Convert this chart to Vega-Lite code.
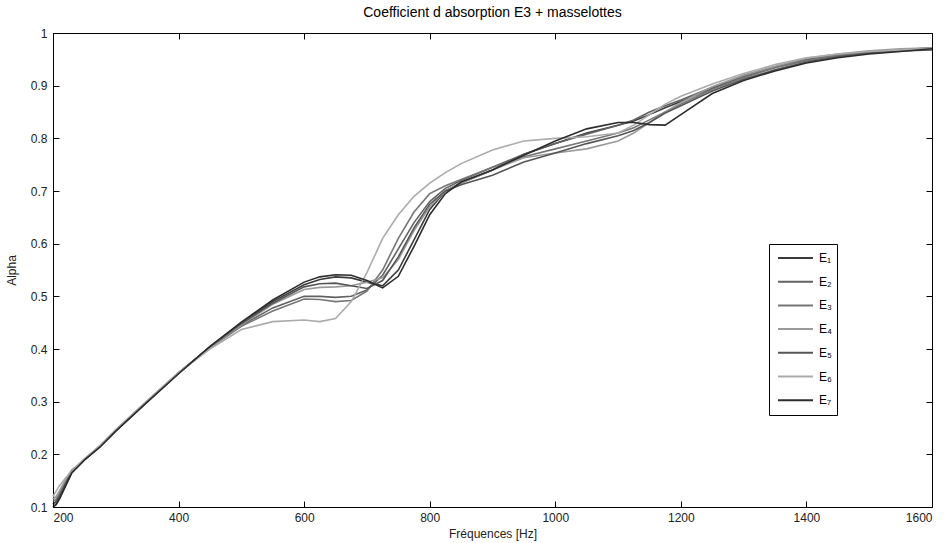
{
  "$schema": "https://vega.github.io/schema/vega-lite/v6.json",
  "width": 879,
  "height": 474,
  "autosize": {"type": "none"},
  "padding": {"left": 53, "top": 33, "right": 14, "bottom": 36},
  "background": "white",
  "title": {"text": "Coefficient d absorption E3 + masselottes", "fontSize": 14, "fontWeight": "normal", "font": "Liberation Sans", "color": "#000", "anchor": "middle", "offset": 7},
  "config": {
    "view": {"stroke": "#000", "strokeWidth": 1},
    "axis": {"grid": false, "domain": false}
  },
  "data": {"values": [
    {"f":200,"s":"E₁","a":0.100},{"f":200,"s":"E₂","a":0.105},{"f":200,"s":"E₃","a":0.110},{"f":200,"s":"E₄","a":0.115},{"f":200,"s":"E₅","a":0.105},{"f":200,"s":"E₆","a":0.120},{"f":200,"s":"E₇","a":0.100},
    {"f":205,"s":"E₁","a":0.105},{"f":205,"s":"E₂","a":0.110},{"f":205,"s":"E₃","a":0.115},{"f":205,"s":"E₄","a":0.120},{"f":205,"s":"E₅","a":0.110},{"f":205,"s":"E₆","a":0.130},{"f":205,"s":"E₇","a":0.105},
    {"f":210,"s":"E₁","a":0.115},{"f":210,"s":"E₂","a":0.120},{"f":210,"s":"E₃","a":0.125},{"f":210,"s":"E₄","a":0.130},{"f":210,"s":"E₅","a":0.120},{"f":210,"s":"E₆","a":0.140},{"f":210,"s":"E₇","a":0.115},
    {"f":220,"s":"E₁","a":0.140},{"f":220,"s":"E₂","a":0.145},{"f":220,"s":"E₃","a":0.150},{"f":220,"s":"E₄","a":0.152},{"f":220,"s":"E₅","a":0.145},{"f":220,"s":"E₆","a":0.155},{"f":220,"s":"E₇","a":0.140},
    {"f":230,"s":"E₁","a":0.165},{"f":230,"s":"E₂","a":0.168},{"f":230,"s":"E₃","a":0.170},{"f":230,"s":"E₄","a":0.170},{"f":230,"s":"E₅","a":0.168},{"f":230,"s":"E₆","a":0.168},{"f":230,"s":"E₇","a":0.165},
    {"f":240,"s":"E₁","a":0.177},{"f":240,"s":"E₂","a":0.178},{"f":240,"s":"E₃","a":0.179},{"f":240,"s":"E₄","a":0.180},{"f":240,"s":"E₅","a":0.178},{"f":240,"s":"E₆","a":0.179},{"f":240,"s":"E₇","a":0.177},
    {"f":250,"s":"E₁","a":0.190},{"f":250,"s":"E₂","a":0.190},{"f":250,"s":"E₃","a":0.191},{"f":250,"s":"E₄","a":0.191},{"f":250,"s":"E₅","a":0.190},{"f":250,"s":"E₆","a":0.191},{"f":250,"s":"E₇","a":0.189},
    {"f":275,"s":"E₁","a":0.215},{"f":275,"s":"E₂","a":0.215},{"f":275,"s":"E₃","a":0.216},{"f":275,"s":"E₄","a":0.216},{"f":275,"s":"E₅","a":0.215},{"f":275,"s":"E₆","a":0.217},{"f":275,"s":"E₇","a":0.214},
    {"f":300,"s":"E₁","a":0.245},{"f":300,"s":"E₂","a":0.245},{"f":300,"s":"E₃","a":0.246},{"f":300,"s":"E₄","a":0.246},{"f":300,"s":"E₅","a":0.245},{"f":300,"s":"E₆","a":0.247},{"f":300,"s":"E₇","a":0.244},
    {"f":350,"s":"E₁","a":0.300},{"f":350,"s":"E₂","a":0.300},{"f":350,"s":"E₃","a":0.301},{"f":350,"s":"E₄","a":0.301},{"f":350,"s":"E₅","a":0.300},{"f":350,"s":"E₆","a":0.302},{"f":350,"s":"E₇","a":0.299},
    {"f":400,"s":"E₁","a":0.354},{"f":400,"s":"E₂","a":0.354},{"f":400,"s":"E₃","a":0.355},{"f":400,"s":"E₄","a":0.355},{"f":400,"s":"E₅","a":0.354},{"f":400,"s":"E₆","a":0.355},{"f":400,"s":"E₇","a":0.353},
    {"f":450,"s":"E₁","a":0.404},{"f":450,"s":"E₂","a":0.403},{"f":450,"s":"E₃","a":0.402},{"f":450,"s":"E₄","a":0.403},{"f":450,"s":"E₅","a":0.404},{"f":450,"s":"E₆","a":0.400},{"f":450,"s":"E₇","a":0.405},
    {"f":500,"s":"E₁","a":0.449},{"f":500,"s":"E₂","a":0.445},{"f":500,"s":"E₃","a":0.443},{"f":500,"s":"E₄","a":0.446},{"f":500,"s":"E₅","a":0.448},{"f":500,"s":"E₆","a":0.437},{"f":500,"s":"E₇","a":0.451},
    {"f":550,"s":"E₁","a":0.490},{"f":550,"s":"E₂","a":0.478},{"f":550,"s":"E₃","a":0.472},{"f":550,"s":"E₄","a":0.485},{"f":550,"s":"E₅","a":0.487},{"f":550,"s":"E₆","a":0.452},{"f":550,"s":"E₇","a":0.493},
    {"f":600,"s":"E₁","a":0.522},{"f":600,"s":"E₂","a":0.500},{"f":600,"s":"E₃","a":0.495},{"f":600,"s":"E₄","a":0.513},{"f":600,"s":"E₅","a":0.518},{"f":600,"s":"E₆","a":0.455},{"f":600,"s":"E₇","a":0.527},
    {"f":625,"s":"E₁","a":0.532},{"f":625,"s":"E₂","a":0.500},{"f":625,"s":"E₃","a":0.494},{"f":625,"s":"E₄","a":0.517},{"f":625,"s":"E₅","a":0.524},{"f":625,"s":"E₆","a":0.452},{"f":625,"s":"E₇","a":0.537},
    {"f":650,"s":"E₁","a":0.537},{"f":650,"s":"E₂","a":0.498},{"f":650,"s":"E₃","a":0.490},{"f":650,"s":"E₄","a":0.518},{"f":650,"s":"E₅","a":0.525},{"f":650,"s":"E₆","a":0.458},{"f":650,"s":"E₇","a":0.541},
    {"f":675,"s":"E₁","a":0.535},{"f":675,"s":"E₂","a":0.500},{"f":675,"s":"E₃","a":0.492},{"f":675,"s":"E₄","a":0.520},{"f":675,"s":"E₅","a":0.520},{"f":675,"s":"E₆","a":0.490},{"f":675,"s":"E₇","a":0.540},
    {"f":700,"s":"E₁","a":0.527},{"f":700,"s":"E₂","a":0.512},{"f":700,"s":"E₃","a":0.510},{"f":700,"s":"E₄","a":0.527},{"f":700,"s":"E₅","a":0.515},{"f":700,"s":"E₆","a":0.545},{"f":700,"s":"E₇","a":0.530},
    {"f":725,"s":"E₁","a":0.520},{"f":725,"s":"E₂","a":0.540},{"f":725,"s":"E₃","a":0.550},{"f":725,"s":"E₄","a":0.535},{"f":725,"s":"E₅","a":0.530},{"f":725,"s":"E₆","a":0.610},{"f":725,"s":"E₇","a":0.516},
    {"f":750,"s":"E₁","a":0.550},{"f":750,"s":"E₂","a":0.590},{"f":750,"s":"E₃","a":0.610},{"f":750,"s":"E₄","a":0.570},{"f":750,"s":"E₅","a":0.575},{"f":750,"s":"E₆","a":0.655},{"f":750,"s":"E₇","a":0.538},
    {"f":775,"s":"E₁","a":0.607},{"f":775,"s":"E₂","a":0.640},{"f":775,"s":"E₃","a":0.660},{"f":775,"s":"E₄","a":0.625},{"f":775,"s":"E₅","a":0.630},{"f":775,"s":"E₆","a":0.690},{"f":775,"s":"E₇","a":0.595},
    {"f":800,"s":"E₁","a":0.665},{"f":800,"s":"E₂","a":0.680},{"f":800,"s":"E₃","a":0.695},{"f":800,"s":"E₄","a":0.670},{"f":800,"s":"E₅","a":0.675},{"f":800,"s":"E₆","a":0.715},{"f":800,"s":"E₇","a":0.655},
    {"f":825,"s":"E₁","a":0.700},{"f":825,"s":"E₂","a":0.705},{"f":825,"s":"E₃","a":0.710},{"f":825,"s":"E₄","a":0.700},{"f":825,"s":"E₅","a":0.700},{"f":825,"s":"E₆","a":0.735},{"f":825,"s":"E₇","a":0.695},
    {"f":850,"s":"E₁","a":0.715},{"f":850,"s":"E₂","a":0.720},{"f":850,"s":"E₃","a":0.722},{"f":850,"s":"E₄","a":0.715},{"f":850,"s":"E₅","a":0.712},{"f":850,"s":"E₆","a":0.752},{"f":850,"s":"E₇","a":0.717},
    {"f":900,"s":"E₁","a":0.740},{"f":900,"s":"E₂","a":0.745},{"f":900,"s":"E₃","a":0.745},{"f":900,"s":"E₄","a":0.740},{"f":900,"s":"E₅","a":0.730},{"f":900,"s":"E₆","a":0.778},{"f":900,"s":"E₇","a":0.740},
    {"f":950,"s":"E₁","a":0.770},{"f":950,"s":"E₂","a":0.770},{"f":950,"s":"E₃","a":0.765},{"f":950,"s":"E₄","a":0.763},{"f":950,"s":"E₅","a":0.755},{"f":950,"s":"E₆","a":0.795},{"f":950,"s":"E₇","a":0.768},
    {"f":1000,"s":"E₁","a":0.790},{"f":1000,"s":"E₂","a":0.790},{"f":1000,"s":"E₃","a":0.780},{"f":1000,"s":"E₄","a":0.772},{"f":1000,"s":"E₅","a":0.772},{"f":1000,"s":"E₆","a":0.800},{"f":1000,"s":"E₇","a":0.795},
    {"f":1050,"s":"E₁","a":0.810},{"f":1050,"s":"E₂","a":0.808},{"f":1050,"s":"E₃","a":0.795},{"f":1050,"s":"E₄","a":0.780},{"f":1050,"s":"E₅","a":0.790},{"f":1050,"s":"E₆","a":0.803},{"f":1050,"s":"E₇","a":0.818},
    {"f":1100,"s":"E₁","a":0.825},{"f":1100,"s":"E₂","a":0.825},{"f":1100,"s":"E₃","a":0.810},{"f":1100,"s":"E₄","a":0.795},{"f":1100,"s":"E₅","a":0.805},{"f":1100,"s":"E₆","a":0.810},{"f":1100,"s":"E₇","a":0.830},
    {"f":1125,"s":"E₁","a":0.833},{"f":1125,"s":"E₂","a":0.835},{"f":1125,"s":"E₃","a":0.820},{"f":1125,"s":"E₄","a":0.810},{"f":1125,"s":"E₅","a":0.815},{"f":1125,"s":"E₆","a":0.825},{"f":1125,"s":"E₇","a":0.830},
    {"f":1150,"s":"E₁","a":0.845},{"f":1150,"s":"E₂","a":0.850},{"f":1150,"s":"E₃","a":0.835},{"f":1150,"s":"E₄","a":0.830},{"f":1150,"s":"E₅","a":0.830},{"f":1150,"s":"E₆","a":0.845},{"f":1150,"s":"E₇","a":0.826},
    {"f":1175,"s":"E₁","a":0.858},{"f":1175,"s":"E₂","a":0.862},{"f":1175,"s":"E₃","a":0.850},{"f":1175,"s":"E₄","a":0.850},{"f":1175,"s":"E₅","a":0.848},{"f":1175,"s":"E₆","a":0.865},{"f":1175,"s":"E₇","a":0.825},
    {"f":1200,"s":"E₁","a":0.870},{"f":1200,"s":"E₂","a":0.873},{"f":1200,"s":"E₃","a":0.865},{"f":1200,"s":"E₄","a":0.868},{"f":1200,"s":"E₅","a":0.862},{"f":1200,"s":"E₆","a":0.880},{"f":1200,"s":"E₇","a":0.845},
    {"f":1250,"s":"E₁","a":0.895},{"f":1250,"s":"E₂","a":0.897},{"f":1250,"s":"E₃","a":0.893},{"f":1250,"s":"E₄","a":0.898},{"f":1250,"s":"E₅","a":0.890},{"f":1250,"s":"E₆","a":0.903},{"f":1250,"s":"E₇","a":0.885},
    {"f":1300,"s":"E₁","a":0.918},{"f":1300,"s":"E₂","a":0.918},{"f":1300,"s":"E₃","a":0.915},{"f":1300,"s":"E₄","a":0.920},{"f":1300,"s":"E₅","a":0.912},{"f":1300,"s":"E₆","a":0.923},{"f":1300,"s":"E₇","a":0.910},
    {"f":1350,"s":"E₁","a":0.935},{"f":1350,"s":"E₂","a":0.935},{"f":1350,"s":"E₃","a":0.934},{"f":1350,"s":"E₄","a":0.937},{"f":1350,"s":"E₅","a":0.930},{"f":1350,"s":"E₆","a":0.940},{"f":1350,"s":"E₇","a":0.928},
    {"f":1400,"s":"E₁","a":0.948},{"f":1400,"s":"E₂","a":0.950},{"f":1400,"s":"E₃","a":0.948},{"f":1400,"s":"E₄","a":0.952},{"f":1400,"s":"E₅","a":0.945},{"f":1400,"s":"E₆","a":0.953},{"f":1400,"s":"E₇","a":0.943},
    {"f":1450,"s":"E₁","a":0.957},{"f":1450,"s":"E₂","a":0.958},{"f":1450,"s":"E₃","a":0.957},{"f":1450,"s":"E₄","a":0.960},{"f":1450,"s":"E₅","a":0.955},{"f":1450,"s":"E₆","a":0.960},{"f":1450,"s":"E₇","a":0.953},
    {"f":1500,"s":"E₁","a":0.963},{"f":1500,"s":"E₂","a":0.964},{"f":1500,"s":"E₃","a":0.963},{"f":1500,"s":"E₄","a":0.966},{"f":1500,"s":"E₅","a":0.962},{"f":1500,"s":"E₆","a":0.965},{"f":1500,"s":"E₇","a":0.960},
    {"f":1550,"s":"E₁","a":0.968},{"f":1550,"s":"E₂","a":0.968},{"f":1550,"s":"E₃","a":0.967},{"f":1550,"s":"E₄","a":0.970},{"f":1550,"s":"E₅","a":0.966},{"f":1550,"s":"E₆","a":0.968},{"f":1550,"s":"E₇","a":0.965},
    {"f":1600,"s":"E₁","a":0.972},{"f":1600,"s":"E₂","a":0.970},{"f":1600,"s":"E₃","a":0.970},{"f":1600,"s":"E₄","a":0.972},{"f":1600,"s":"E₅","a":0.968},{"f":1600,"s":"E₆","a":0.970},{"f":1600,"s":"E₇","a":0.970}
  ]},
  "layer": [
    {
      "mark": {"type": "line", "strokeWidth": 1.6},
      "encoding": {
        "x": {"field": "f", "type": "quantitative", "scale": {"domain": [200, 1600], "nice": false, "zero": false}, "axis": {"orient": "bottom", "ticks": false, "values": [200,400,600,800,1000,1200,1400,1600], "format": "d", "title": "Fréquences [Hz]", "labelPadding": 5, "titlePadding": 5, "labelFont": "Liberation Sans", "labelFontSize": 12, "labelColor": "#222", "titleFont": "Liberation Sans", "titleFontSize": 12, "titleFontWeight": "normal", "titleColor": "#222"}},
        "y": {"field": "a", "type": "quantitative", "scale": {"domain": [0.1, 1], "nice": false, "zero": false}, "axis": {"orient": "left", "ticks": false, "values": [0.1,0.2,0.3,0.4,0.5,0.6,0.7,0.8,0.9,1], "format": ".1~f", "title": "Alpha", "labelPadding": 6, "titlePadding": 12, "labelFont": "Liberation Sans", "labelFontSize": 12, "labelColor": "#222", "titleFont": "Liberation Sans", "titleFontSize": 12, "titleFontWeight": "normal", "titleColor": "#222"}},
        "color": {"field": "s", "type": "nominal", "scale": {"domain": ["E₁","E₂","E₃","E₄","E₅","E₆","E₇"], "range": ["#3c3c3c","#626262","#767676","#9a9a9a","#565656","#ababab","#2c2c2c"]},
          "legend": {"title": null, "orient": "none", "legendX": 716, "legendY": 211, "strokeColor": "#000", "fillColor": "#fff", "padding": 5, "symbolType": "stroke", "symbolStrokeWidth": 2, "symbolSize": 1225, "symbolOffset": 3, "clipHeight": 18, "rowPadding": 5.7, "labelFont": "Liberation Sans", "labelFontSize": 12, "labelColor": "#000", "labelOffset": 5}}
      }
    },
    {
      "mark": {"type": "line", "opacity": 0},
      "encoding": {
        "x": {"field": "f", "type": "quantitative", "axis": {"orient": "top", "offset": -474, "values": [200,400,600,800,1000,1200,1400,1600], "tickColor": "#000", "tickSize": 6, "tickWidth": 1, "labels": false, "title": null, "zindex": 1}},
        "y": {"field": "a", "type": "quantitative", "axis": {"orient": "right", "offset": -879, "tickColor": "#000", "tickSize": 6, "tickWidth": 1, "labels": false, "title": null, "zindex": 1}},
        "detail": {"field": "s"}
      }
    },
    {
      "mark": {"type": "line", "opacity": 0},
      "encoding": {
        "x": {"field": "f", "type": "quantitative", "axis": {"orient": "bottom", "offset": -474, "values": [200,400,600,800,1000,1200,1400,1600], "tickColor": "#000", "tickSize": 6, "tickWidth": 1, "labels": false, "title": null, "zindex": 1}},
        "y": {"field": "a", "type": "quantitative", "axis": {"orient": "left", "offset": -879, "tickColor": "#000", "tickSize": 6, "tickWidth": 1, "labels": false, "title": null, "zindex": 1}},
        "detail": {"field": "s"}
      }
    }
  ],
  "resolve": {"axis": {"x": "independent", "y": "independent"}}
}
